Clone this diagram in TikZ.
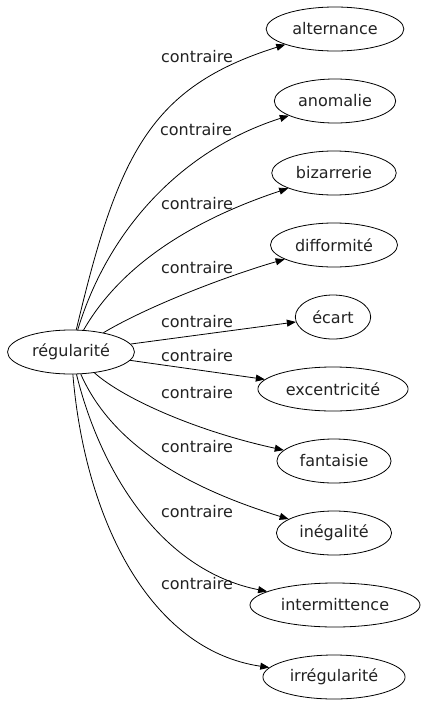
\documentclass[tikz,border=0pt]{standalone}
\usepackage{fontspec}
\setmainfont{DejaVu Sans}
\usepackage{tikz}
\usetikzlibrary{positioning,shapes.geometric,arrows.meta}
\definecolor{ink}{HTML}{000000}
\definecolor{softink}{HTML}{222222}
\tikzset{
  >={Triangle[length=9pt,width=7pt]},
  every node/.style={font=\fontsize{16}{19}\selectfont},
  % --- nodes
  lex/.style = {ellipse, draw=ink, inner xsep=6pt, inner ysep=1pt,
                minimum height=44pt, line width=0.8pt, text=softink},
  rel/.style = {text=softink, inner sep=1pt},
  % --- edges
  e/.style   = {->, draw=ink, line width=0.8pt},
}

\begin{document}
\begin{tikzpicture}[x=1pt,y=-1pt]
  \useasboundingbox (0,0) rectangle (422,707);
  \node[lex] (reg) at (71,352)  {régularité};
  \node[lex] (alt) at (335,29)  {alternance};
  \node[lex] (ano) at (335,101) {anomalie};
  \node[lex] (biz) at (334,173) {bizarrerie};
  \node[lex] (dif) at (334,245) {difformité};
  \node[lex] (eca) at (333,317) {écart};
  \node[lex] (exc) at (333,389) {excentricité};
  \node[lex] (fan) at (334,461) {fantaisie};
  \node[lex] (ine) at (334,533) {inégalité};
  \node[lex] (int) at (335,605) {intermittence};
  \node[lex] (irr) at (334,677) {irrégularité};
  % labels
  \node[rel] (l1)  at (197,57)  {contraire};
  \node[rel] (l2)  at (196,130) {contraire};
  \node[rel] (l3)  at (197,204) {contraire};
  \node[rel] (l4)  at (197,268) {contraire};
  \node[rel] (l5)  at (197,322) {contraire};
  \node[rel] (l6)  at (197,356) {contraire};
  \node[rel] (l7)  at (197,393) {contraire};
  \node[rel] (l8)  at (197,447) {contraire};
  \node[rel] (l9)  at (197,512) {contraire};
  \node[rel] (l10) at (197,584) {contraire};
  % edges
  \draw[e] (reg) .. controls (118,154) and (150,87)  .. (alt);
  \draw[e] (reg) .. controls (109,227) and (184,149) .. (ano);
  \draw[e] (reg) .. controls (118,270) and (184,223) .. (biz);
  \draw[e] (reg) .. controls (150,305) and (230,275) .. (dif);
  \draw[e] (reg) -- (eca);
  \draw[e] (reg) -- (exc);
  \draw[e] (reg) .. controls (125,400) and (200,432) .. (fan);
  \draw[e] (reg) .. controls (113,447) and (191,489) .. (ine);
  \draw[e] (reg) .. controls (100,470) and (160,570) .. (int);
  \draw[e] (reg) .. controls (85,520)  and (150,650) .. (irr);
\end{tikzpicture}
\end{document}
